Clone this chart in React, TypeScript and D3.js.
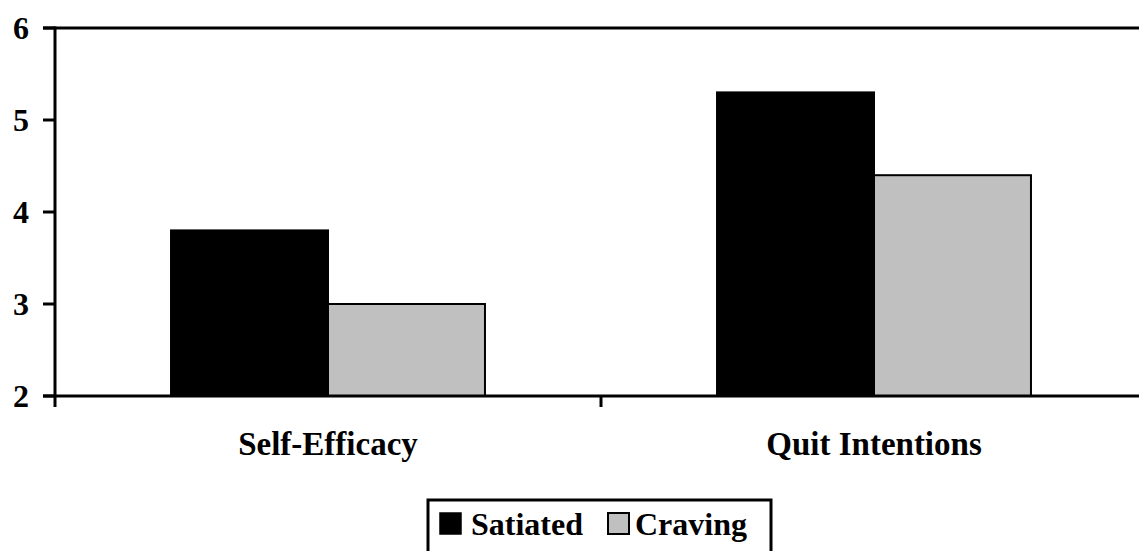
import React from "react";
import * as d3 from "d3";

const categories = ["Self-Efficacy", "Quit Intentions"];
const seriesNames = ["Satiated", "Craving"];
const satiated = [3.8, 5.3];
const craving = [3.0, 4.4];
const yTicks = [2, 3, 4, 5, 6];
const colors = ["#000000", "#c0c0c0"];

const W = 1139;
const H = 551;
const FONT = '"Liberation Serif", "Times New Roman", Times, serif';

export default function App() {
  const left = 55;
  const right = 1147;
  const top = 28;
  const bottom = 396;

  const y = d3.scaleLinear().domain([2, 6]).range([bottom, top]);
  const x0 = d3.scaleBand<string>().domain(categories).range([left, right]).padding(0);
  const gap = x0.bandwidth() * 0.2125;
  const x1 = d3
    .scaleBand<string>()
    .domain(seriesNames)
    .range([gap, x0.bandwidth() - gap])
    .padding(0);

  const values = [satiated, craving];
  const txt = { fontFamily: FONT, fontWeight: 700 as const };

  return (
    <svg
      width={W}
      height={H}
      style={{ position: "absolute", left: 0, top: 0, background: "#fff" }}
    >
      <rect x={0} y={0} width={W} height={H} fill="#fff" />
      {/* top border line at max */}
      <line x1={43} x2={W} y1={y(6)} y2={y(6)} stroke="#000" strokeWidth={3} />
      {/* bars */}
      {categories.map((c, ci) =>
        seriesNames.map((s, si) => {
          const v = values[si][ci];
          const bx = (x0(c) as number) + (x1(s) as number);
          return (
            <rect
              key={c + s}
              x={bx}
              y={y(v)}
              width={x1.bandwidth()}
              height={y(2) - y(v)}
              fill={colors[si]}
              stroke="#000"
              strokeWidth={2}
            />
          );
        })
      )}
      {/* y axis */}
      <line x1={left} x2={left} y1={top - 1.5} y2={bottom + 11} stroke="#000" strokeWidth={3} />
      {yTicks.map((t) => (
        <g key={t}>
          <line x1={43} x2={left} y1={y(t)} y2={y(t)} stroke="#000" strokeWidth={3} />
          <text x={29} y={y(t) + 11} textAnchor="end" fontSize={32} style={txt}>
            {t}
          </text>
        </g>
      ))}
      {/* x axis */}
      <line x1={43} x2={W} y1={bottom} y2={bottom} stroke="#000" strokeWidth={3} />
      {categories.map((c, i) => (
        <g key={c}>
          {i > 0 && (
            <line
              x1={x0(c) as number}
              x2={x0(c) as number}
              y1={bottom}
              y2={bottom + 11}
              stroke="#000"
              strokeWidth={3}
            />
          )}
          <text
            x={(x0(c) as number) + x0.bandwidth() / 2}
            y={455}
            textAnchor="middle"
            fontSize={33}
            style={txt}
          >
            {c}
          </text>
        </g>
      ))}
      {/* legend */}
      <rect x={428} y={500} width={343} height={70} fill="#fff" stroke="#000" strokeWidth={3} />
      <rect x={440} y={513} width={21} height={21} fill={colors[0]} stroke="#000" strokeWidth={1.5} />
      <text x={471} y={535} fontSize={32} style={txt}>
        {seriesNames[0]}
      </text>
      <rect x={608} y={513} width={21} height={21} fill={colors[1]} stroke="#000" strokeWidth={2} />
      <text x={635} y={535} fontSize={32} style={txt}>
        {seriesNames[1]}
      </text>
    </svg>
  );
}
